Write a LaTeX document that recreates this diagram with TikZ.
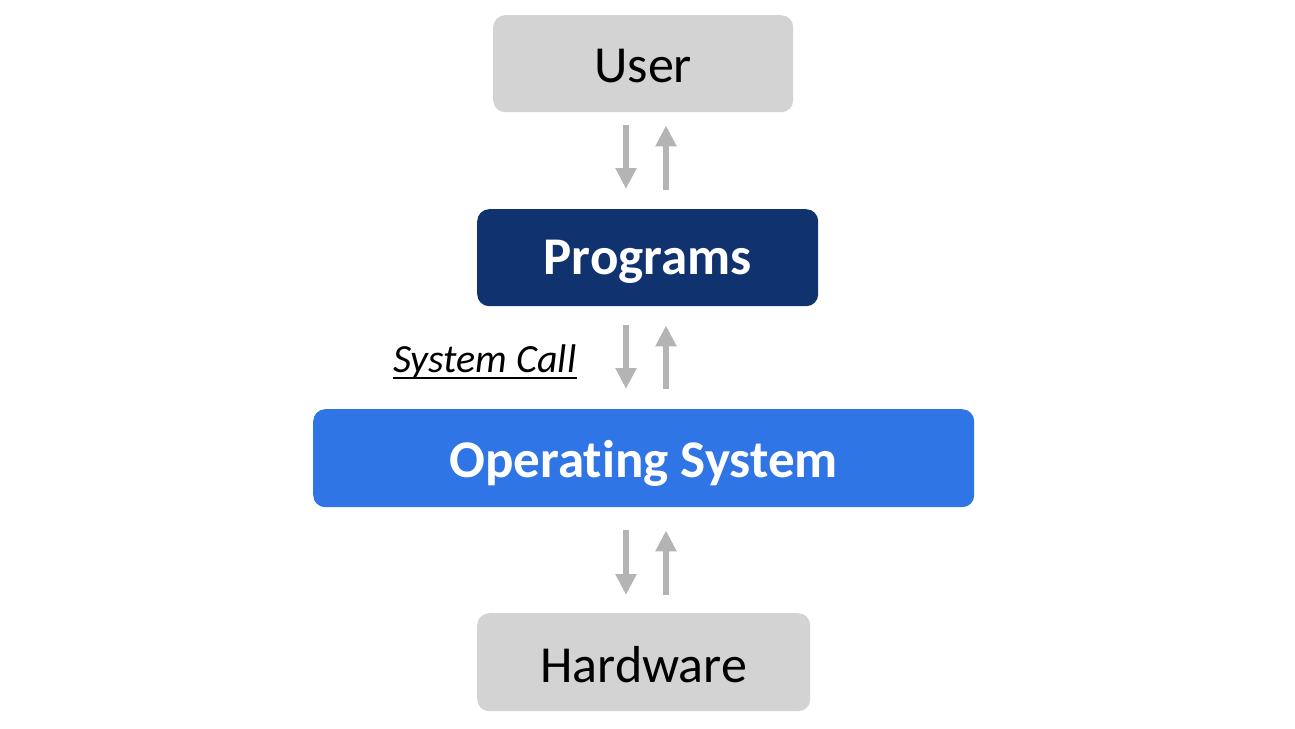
\documentclass[tikz,border=0pt]{standalone}
\usepackage{fontspec}
\setmainfont[Ligatures=NoCommon]{Carlito}
\usetikzlibrary{arrows.meta}
\definecolor{boxgray}{HTML}{D3D3D3}
\definecolor{navy}{HTML}{10326F}
\definecolor{osblue}{HTML}{3075E5}
\definecolor{arrgray}{HTML}{B4B4B4}
\newcommand{\lowered}[2]{\raisebox{-#1}[0pt][0pt]{#2}}
\begin{document}
\begin{tikzpicture}[x=1pt,y=-1pt,
  box/.style={rounded corners=12pt, inner sep=0pt, anchor=north west},
  graybox/.style={box, fill=boxgray, text=black, font=\fontsize{52}{60}\selectfont},
  bluebox/.style={box, text=white, font=\bfseries\fontsize{53}{60}\selectfont},
  arr/.style={draw=arrgray, line width=6pt, -{Triangle[width=20pt,length=21pt]}, arrgray}
]
\useasboundingbox (0,0) rectangle (1295,728);
\node[graybox, minimum width=300pt, minimum height=97pt] (user) at (493,15) {\lowered{18.5pt}{User}};
\node[bluebox, fill=navy, minimum width=341pt, minimum height=97pt] (prog) at (477,209) {\lowered{17pt}{Programs}};
\node[bluebox, fill=osblue, minimum width=661pt, minimum height=98pt] (os) at (313,409) {\lowered{19pt}{Operating System}};
\node[graybox, minimum width=333pt, minimum height=98pt] (hw) at (477,613) {\lowered{20pt}{Hardware}};
\coordinate (L) at (626,0);
\coordinate (R) at (666,0);
% user <-> programs
\draw[arr, shorten <=13pt, shorten >=20pt] (user.south -| L) -- (prog.north -| L);
\draw[arr, shorten <=19pt, shorten >=13pt] (prog.north -| R) -- (user.south -| R);
% programs <-> OS
\draw[arr, shorten <=19pt, shorten >=20pt] (prog.south -| L) -- (os.north -| L);
\draw[arr, shorten <=20pt, shorten >=19pt] (os.north -| R) -- (prog.south -| R);
% OS <-> hardware
\draw[arr, shorten <=23pt, shorten >=18pt] (os.south -| L) -- (hw.north -| L);
\draw[arr, shorten <=18pt, shorten >=23pt] (hw.north -| R) -- (os.south -| R);
\node[font=\itshape\fontsize{40}{46}\selectfont, inner sep=0pt, anchor=base west] (sc) at (393,372) {System Call};
\draw[line width=2pt] ([yshift=-6pt]sc.base west) -- ([yshift=-6pt]sc.base east);
\end{tikzpicture}
\end{document}
